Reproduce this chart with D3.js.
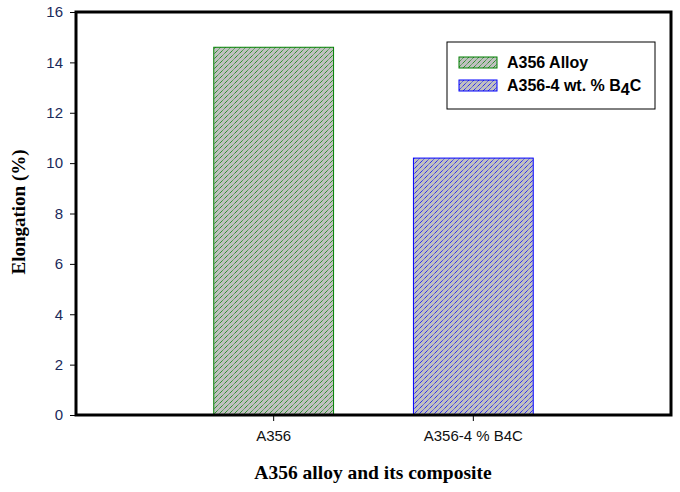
<!DOCTYPE html>
<html>
<head>
<meta charset="utf-8">
<script src="https://cdn.jsdelivr.net/npm/d3@7"></script>
<style>
  body { margin: 0; background: #fff; }
  svg { display: block; }
</style>
</head>
<body>
<svg width="680" height="492"></svg>
<script>
// data
var categories = ["A356", "A356-4 % B4C"];
var elongation = [14.6, 10.2];
var seriesNames = ["A356 Alloy", "A356-4 wt. % B"];
var seriesColors = ["#008000", "#0000ff"];
var yTicks = [0, 2, 4, 6, 8, 10, 12, 14, 16];

var svg = d3.select("svg"),
    margin = {top: 12, right: 9, bottom: 77, left: 76},
    width = 680 - margin.left - margin.right,
    height = 492 - margin.top - margin.bottom;

var x = d3.scaleBand().domain(categories).range([0, width])
    .paddingInner(0.4).paddingOuter(0.69);
var y = d3.scaleLinear().domain([0, 16]).range([height, 0]);

// hatch patterns, one per series (dotted diagonals on grey)
var defs = svg.append("defs");
seriesColors.forEach(function(c, i) {
  var p = defs.append("pattern")
      .attr("id", "hatch" + i)
      .attr("patternUnits", "userSpaceOnUse")
      .attr("width", 5).attr("height", 5);
  p.append("rect").attr("width", 5).attr("height", 5).attr("fill", "#c0c0c0");
  p.append("path")
      .attr("d", "M-1,1 l2,-2 M0,5 l5,-5 M4,6 l2,-2")
      .attr("stroke", c).attr("stroke-width", 0.9)
      .attr("stroke-dasharray", "1.2,0.7");
});

var g = svg.append("g")
    .attr("transform", "translate(" + margin.left + "," + margin.top + ")");

g.selectAll(".bar")
  .data(elongation)
  .enter().append("rect")
    .attr("class", "bar")
    .attr("x", function(d, i) { return x(categories[i]); })
    .attr("width", x.bandwidth())
    .attr("y", function(d) { return y(d); })
    .attr("height", function(d) { return height - y(d); })
    .attr("fill", function(d, i) { return "url(#hatch" + i + ")"; })
    .attr("stroke", function(d, i) { return seriesColors[i]; })
    .attr("stroke-width", 1);

// frame
g.append("rect")
    .attr("width", width).attr("height", height)
    .attr("fill", "none").attr("stroke", "#000").attr("stroke-width", 3);

// y axis
var yAxis = g.append("g")
    .call(d3.axisLeft(y).tickValues(yTicks).tickSize(6).tickPadding(7));
yAxis.select(".domain").remove();
yAxis.selectAll("text")
    .style("font", "15px Arial, 'Liberation Sans', sans-serif")
    .attr("fill", "#1a2a5a");

// x axis
var xAxis = g.append("g")
    .attr("transform", "translate(0," + height + ")")
    .call(d3.axisBottom(x).tickSize(6).tickPadding(9));
xAxis.select(".domain").remove();
xAxis.selectAll("text")
    .style("font", "15px Arial, 'Liberation Sans', sans-serif")
    .attr("fill", "#111");

// axis titles
svg.append("text")
    .attr("x", 373).attr("y", 479)
    .attr("text-anchor", "middle")
    .style("font", "bold 19.5px 'Times New Roman', 'Liberation Serif', serif")
    .text("A356 alloy and its composite");

svg.append("text")
    .attr("transform", "translate(25,212) rotate(-90)")
    .attr("text-anchor", "middle")
    .style("font", "bold 19px 'Times New Roman', 'Liberation Serif', serif")
    .text("Elongation (%)");

// legend
var legend = svg.append("g").attr("transform", "translate(447,42)");
legend.append("rect")
    .attr("width", 208).attr("height", 67)
    .attr("fill", "#fff").attr("stroke", "#000").attr("stroke-width", 1);

var item = legend.selectAll(".item")
  .data(seriesNames)
  .enter().append("g")
    .attr("class", "item")
    .attr("transform", function(d, i) { return "translate(12," + (15 + i * 23) + ")"; });

item.append("rect")
    .attr("width", 38).attr("height", 11)
    .attr("fill", function(d, i) { return "url(#hatch" + i + ")"; })
    .attr("stroke", function(d, i) { return seriesColors[i]; });

var label = item.append("text")
    .attr("x", 48).attr("y", 11)
    .style("font", "bold 16px Arial, 'Liberation Sans', sans-serif")
    .text(function(d) { return d; });

label.filter(function(d, i) { return i === 1; })
  .append("tspan").attr("dy", 4).text("4");
label.filter(function(d, i) { return i === 1; })
  .append("tspan").attr("dy", -4).text("C");
</script>
</body>
</html>
